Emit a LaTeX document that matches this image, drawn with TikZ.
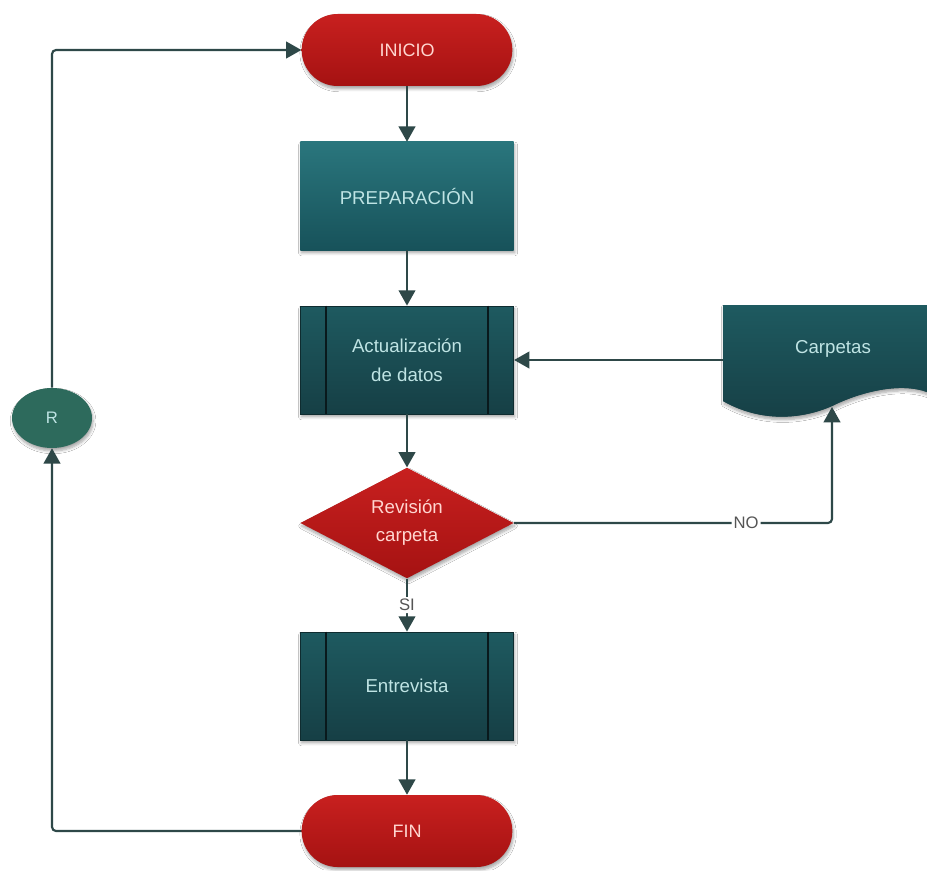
\documentclass[tikz,border=0pt]{standalone}
\usepackage{fontspec}
\setmainfont{Liberation Sans}
\usetikzlibrary{shapes.geometric,arrows.meta,shadows.blur,calc}
\definecolor{linec}{HTML}{2E4848}
\definecolor{redtop}{HTML}{C8201F}
\definecolor{redbot}{HTML}{A51212}
\definecolor{tealtop}{HTML}{2A767D}
\definecolor{tealbot}{HTML}{17525A}
\definecolor{darktop}{HTML}{1E5A60}
\definecolor{darkbot}{HTML}{163F45}
\definecolor{rgreen}{HTML}{2D6A5C}
\definecolor{txtteal}{HTML}{BFE4E4}
\definecolor{txtred}{HTML}{FFD6D0}
\definecolor{lblc}{HTML}{555555}
\tikzset{
  shad/.style={blur shadow={shadow blur steps=6, shadow xshift=0.8pt, shadow yshift=-2.2pt, shadow opacity=35}},
  terminal/.style={rectangle, rounded corners=27pt, minimum width=158pt, minimum height=54pt,
    top color=redtop, bottom color=redbot, text=txtred, font=\fontsize{13.5}{16}\selectfont, shad},
  procbox/.style={rectangle, minimum width=160pt, minimum height=81pt,
    top color=tealtop, bottom color=tealbot, text=txtteal, font=\fontsize{14}{22}\selectfont, align=center, shad},
  predef/.style={rectangle, minimum width=160pt, minimum height=81pt, draw=darkbot!70!black, line width=0.6pt,
    top color=darktop, bottom color=darkbot, text=txtteal, font=\fontsize{14}{22}\selectfont, align=center, shad},
  decision/.style={diamond, aspect=1.95, inner sep=0pt, minimum width=160pt, minimum height=83pt,
    top color=redtop, bottom color=redbot, text=txtred, font=\fontsize{14}{21}\selectfont, align=center, shad},
  connector/.style={ellipse, minimum width=60pt, minimum height=45pt, fill=rgreen, text=txtteal,
    font=\fontsize{12.5}{14}\selectfont, shad},
  arr/.style={draw=linec, line width=1.6pt, rounded corners=3pt, -{Triangle[length=11.5pt,width=12.5pt]}},
  lbl/.style={fill=white, text=lblc, inner sep=1.5pt, font=\fontsize{12.5}{14}\selectfont},
  sidebar/.style={draw=black!60!darkbot, line width=1.2pt}
}
\begin{document}
\begin{tikzpicture}[x=0.75pt,y=-0.75pt]
\useasboundingbox (0,0) rectangle (927,870);
\fill[white] (0,0) rectangle (927,870);

% Carpetas document shape
\begin{scope}
\clip (0,0) rectangle (927,870);
\path[fill=darkbot, top color=darktop, bottom color=darkbot, shad]
  (723,305) -- (935,305) -- (935,394) -- (927,392)
  .. controls (900,382) and (860,392) .. (832,406)
  .. controls (800,420) and (760,422) .. (723,401) -- cycle;
\end{scope}
\node[text=txtteal, font=\fontsize{14}{16}\selectfont] (carp) at (833,349) {Carpetas};
\coordinate (carpL) at (723,360);
\coordinate (carpB) at (832,407);

\node[terminal] (ini) at (407,50) {INICIO};
\node[procbox] (prep) at (407,196) {PREPARACIÓN};
\node[predef] (act) at (407,360) {Actualización\\de datos};
\node[decision] (rev) at (407,523) {Revisión\\carpeta};
\node[predef] (ent) at (407,686) {Entrevista};
\node[terminal] (fin) at (407,831) {FIN};
\node[connector] (r) at (52,418) {R};

\draw[sidebar] ($(act.north west)+(26,0)$) -- ($(act.south west)+(26,0)$);
\draw[sidebar] ($(act.north east)+(-26,0)$) -- ($(act.south east)+(-26,0)$);
\draw[sidebar] ($(ent.north west)+(26,0)$) -- ($(ent.south west)+(26,0)$);
\draw[sidebar] ($(ent.north east)+(-26,0)$) -- ($(ent.south east)+(-26,0)$);

\draw[arr] (ini) -- (prep);
\draw[arr] (prep) -- (act);
\draw[arr] (act) -- (rev);
\draw[arr] (carpL) -- (carpL -| act.east);
\draw[arr] (rev.east) -- node[lbl, pos=0.73] {NO} (carpB |- rev.east) -- (carpB);
\draw[arr] (rev.south) -- node[lbl, pos=0.5] {SI} (ent.north);
\draw[arr] (ent) -- (fin);
\draw[arr] (fin.west) -| (r.south);
\draw[arr] (r.north) |- (ini.west);
\end{tikzpicture}
\end{document}
